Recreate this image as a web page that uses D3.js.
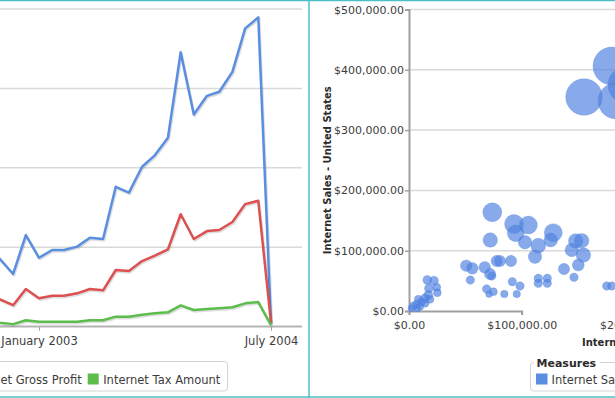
<!DOCTYPE html>
<html>
<head>
<meta charset="utf-8">
<script src="https://cdn.jsdelivr.net/npm/d3@7"></script>
<style>
  body { margin: 0; background: #fff; }
  svg { display: block; font-family: "DejaVu Sans", Verdana, sans-serif; }
</style>
</head>
<body>
<svg id="chart" width="615" height="398"></svg>
<script>
// ---- left chart: monthly internet sales ----
const months = ["2002-09", "2002-10", "2002-11", "2002-12", "2003-01", "2003-02", "2003-03", "2003-04",
  "2003-05", "2003-06", "2003-07", "2003-08", "2003-09", "2003-10", "2003-11", "2003-12",
  "2004-01", "2004-02", "2004-03", "2004-04", "2004-05", "2004-06", "2004-07"];
const salesAmount = [482000, 425000, 331000, 576000, 433000, 482000, 482000, 503000, 559000, 551000, 880000, 843000,
  1006000, 1078000, 1189000, 1727000, 1336000, 1453000, 1479000, 1604000, 1878000, 1947000, 20000];
const grossProfit = [185000, 171000, 134000, 236000, 178000, 194000, 194000, 209000, 236000, 228000, 356000, 349000,
  412000, 446000, 486000, 707000, 551000, 601000, 608000, 658000, 771000, 792000, 24000];
const taxAmount = [38000, 24000, 15000, 39000, 30000, 30000, 30000, 30000, 39000, 39000, 62000, 62000,
  74000, 83000, 89000, 133000, 104000, 110000, 115000, 121000, 146000, 154000, 9000];
const lineSeries = ["Internet Sales Amount", "Internet Gross Profit", "Internet Tax Amount"];
const lineTicks = ["2003-01", "2004-07"];

// ---- right chart: bubbles (x = other country, y = United States, size) ----
const bubbleX = [73900, 72100, 93200, 94700, 105900, 102900, 114700, 111800, 128000, 125700, 147900, 153200, 144400,
  154700, 150200, 50800, 56200, 54400, 67200, 71900, 73400, 77800, 80700, 90500, 68900, 74800, 71000, 84600, 91700,
  98500, 95600, 114700, 114700, 122700, 122700, 137500, 146400, 175400, 179900,
  16200, 22200, 17700, 24600, 25100, 17100, 14200, 11300, 8300, 6800, 3800, 2400, 9800, 14200, 18600, 7400,
  155300, 180100, 183700, 192500];
const bubbleY = [163700, 117700, 144300, 128900, 142600, 113900, 108300, 90100, 129900, 117700, 116100, 116600, 101200,
  92900, 76300, 75100, 70800, 51400, 72500, 61400, 58000, 82900, 82900, 82900, 36500, 32000, 27700, 28200, 48600,
  41500, 28200, 54200, 45900, 54200, 45900, 69700, 55900, 41500, 41500,
  51400, 50200, 37600, 39300, 30300, 26500, 21100, 15400, 19400, 11600, 8300, 4500, 7100, 12800, 19400, 4500,
  354900, 406300, 348300, 374800];
const bubbleSize = [90, 53, 90, 70, 81, 45, 55, 45, 81, 48, 53, 53, 45,
  53, 36, 34, 34, 18, 34, 32, 18, 32, 32, 32, 18, 16, 11, 14, 18,
  18, 14, 18, 18, 18, 18, 32, 18, 18, 18,
  20, 20, 20, 16, 16, 20, 20, 16, 16, 16, 16, 13, 13, 16, 16, 13,
  335, 361, 324, 324];
const bubbleSeries = "Internet Sales Amount";
const yTitle = "Internet Sales - United States";
const xTitle = "Internet Sales - Australia";

const svg = d3.select("#chart");
const parseMonth = d3.timeParse("%Y-%m");
const colors = ["#5a8ee0", "#dc5050", "#5cbd4c"];
const textColor = "#3c3c3c";

// ================= left panel =================
const left = svg.append("g");
left.append("clipPath").attr("id", "leftClip")
  .append("rect").attr("x", 0).attr("y", 0).attr("width", 305).attr("height", 330);

const x = d3.scaleTime()
  .domain([parseMonth(lineTicks[0]), parseMonth(lineTicks[1])])
  .range([39, 271]);
const y = d3.scaleLinear().domain([0, 2000000]).range([326.5, 9]);

left.append("g")
  .selectAll("line")
  .data(y.ticks(4).filter(d => d > 0))
  .join("line")
  .attr("x1", 0).attr("x2", 302)
  .attr("y1", d => y(d)).attr("y2", d => y(d))
  .attr("stroke", "#d9d9d9").attr("stroke-width", 1.5);

const xAxis = left.append("g")
  .attr("transform", `translate(0,${y(0)})`)
  .call(d3.axisBottom(x)
    .tickValues(lineTicks.map(parseMonth))
    .tickFormat(d3.timeFormat("%B %Y"))
    .tickSize(4).tickPadding(6));
xAxis.select(".domain").remove();
xAxis.selectAll(".tick line").attr("stroke", "#999");
xAxis.selectAll("text").attr("fill", textColor).style("font-size", "11.5px").style("font-family", "DejaVu Sans");
left.append("line")
  .attr("x1", 0).attr("x2", 302).attr("y1", y(0)).attr("y2", y(0))
  .attr("stroke", "#b4b4b4").attr("stroke-width", 2);

const lineData = [salesAmount, grossProfit, taxAmount].map(vals =>
  vals.map((v, i) => ({ date: parseMonth(months[i]), value: v })));
const line = d3.line().x(d => x(d.date)).y(d => y(d.value));
const lines = left.append("g").attr("clip-path", "url(#leftClip)");
lineData.forEach((s, i) => {
  lines.append("path").datum(s)
    .attr("d", line).attr("fill", "none")
    .attr("stroke", "#000").attr("stroke-opacity", 0.13).attr("stroke-width", 2.5)
    .attr("stroke-linejoin", "round")
    .attr("transform", "translate(1,1.5)");
  lines.append("path").datum(s)
    .attr("d", line).attr("fill", "none")
    .attr("stroke", colors[i]).attr("stroke-width", 2.5)
    .attr("stroke-linejoin", "round");
});

// legend (left)
const leg = left.append("g");
leg.append("rect")
  .attr("x", -300).attr("y", 361.5).attr("width", 527.5).attr("height", 29.5).attr("rx", 3)
  .attr("fill", "#fff").attr("stroke", "#d4d4d4");
const items = leg.append("g");
let cx = 0;
lineSeries.forEach((name, i) => {
  const g = items.append("g").attr("transform", `translate(${cx},0)`);
  g.append("rect").attr("x", 0).attr("y", 373.5).attr("width", 11).attr("height", 11).attr("fill", colors[i]);
  const t = g.append("text").attr("x", 15.5).attr("y", 383.5)
    .attr("fill", textColor).style("font-size", "11.5px").text(name);
  cx += 15.5 + t.node().getComputedTextLength() + 6;
  g.attr("data-w", cx);
});
// place so that the last square sits where the reference has it
const lastStart = +items.selectAll("g").nodes()[1].getAttribute("data-w");
items.attr("transform", `translate(${87.7 - lastStart},0)`);

// ================= right panel =================
const right = svg.append("g");
const bx = d3.scaleLinear().domain([0, 100000]).range([409, 521.7]);
const by = d3.scaleLinear().domain([0, 500000]).range([311, 9.5]);
const br = d3.scaleSqrt().domain([0, 400]).range([0, 20]);

right.append("g")
  .selectAll("line")
  .data(by.ticks(5).filter(d => d > 0))
  .join("line")
  .attr("x1", 409).attr("x2", 615)
  .attr("y1", d => by(d)).attr("y2", d => by(d))
  .attr("stroke", "#d9d9d9").attr("stroke-width", 1.5);

const money = d3.format("$,.2f");
const yAx = right.append("g").attr("transform", "translate(409,0)")
  .call(d3.axisLeft(by).ticks(5).tickFormat(money).tickSize(4).tickPadding(1));
const xAx = right.append("g").attr("transform", `translate(0,${by(0)})`)
  .call(d3.axisBottom(bx).tickValues([0, 100000, 200000]).tickFormat(money).tickSize(4).tickPadding(6));
[yAx, xAx].forEach(a => {
  a.select(".domain").attr("stroke", "#a0a0a0").attr("stroke-width", 2);
  a.selectAll(".tick line").attr("stroke", "#a0a0a0").attr("stroke-width", 1.5);
  a.selectAll("text").attr("fill", textColor).style("font-size", "11px").style("font-family", "DejaVu Sans");
});

const bubbles = bubbleX.map((v, i) => ({ x: v, y: bubbleY[i], s: bubbleSize[i] }));
right.append("g")
  .selectAll("circle")
  .data(bubbles)
  .join("circle")
  .attr("cx", d => bx(d.x)).attr("cy", d => by(d.y)).attr("r", d => br(d.s))
  .attr("fill", "#4f82e0").attr("fill-opacity", 0.68)
  .attr("stroke", "#4f82e0").attr("stroke-opacity", 0.35).attr("stroke-width", 0.8);

right.append("text")
  .attr("transform", `translate(331,${(by(0) + by(500000)) / 2 + 10}) rotate(-90)`)
  .attr("text-anchor", "middle")
  .attr("fill", "#2b2b2b").style("font-size", "10px").style("font-weight", "bold")
  .text(yTitle);
right.append("text")
  .attr("x", 582).attr("y", 345.5)
  .attr("fill", "#2b2b2b").style("font-size", "10px").style("font-weight", "bold")
  .text(xTitle);

// legend (right)
right.append("rect")
  .attr("x", 530.5).attr("y", 362.5).attr("width", 200).attr("height", 28.5).attr("rx", 3)
  .attr("fill", "#fff").attr("stroke", "#d4d4d4");
right.append("rect").attr("x", 534).attr("y", 358).attr("width", 66).attr("height", 8).attr("fill", "#fff");
right.append("text").attr("x", 536.5).attr("y", 366.5)
  .attr("fill", "#2b2b2b").style("font-size", "11px").style("font-weight", "bold").text("Measures");
right.append("rect").attr("x", 536).attr("y", 373.5).attr("width", 11.5).attr("height", 11).attr("fill", colors[0]);
right.append("text").attr("x", 551.5).attr("y", 383.5)
  .attr("fill", textColor).style("font-size", "11.5px").text(bubbleSeries);

// ================= panel borders =================
const borders = svg.append("g").attr("stroke", "#4cbfc6").attr("stroke-width", 1.5);
borders.append("line").attr("x1", 0).attr("x2", 615).attr("y1", 0.5).attr("y2", 0.5);
borders.append("line").attr("x1", 0).attr("x2", 615).attr("y1", 397).attr("y2", 397);
borders.append("line").attr("x1", 309).attr("x2", 309).attr("y1", 0).attr("y2", 398);
</script>
</body>
</html>
